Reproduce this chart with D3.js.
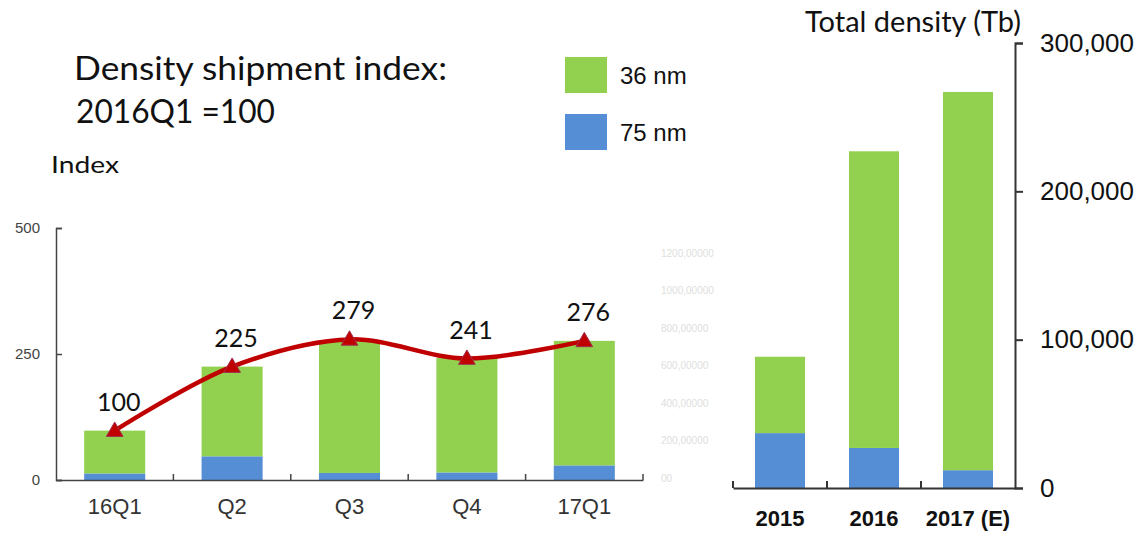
<!DOCTYPE html>
<html>
<head>
<meta charset="utf-8">
<script src="https://cdn.jsdelivr.net/npm/d3@7"></script>
<style>
  html, body { margin: 0; padding: 0; background: #fff; }
  svg { display: block; }
</style>
</head>
<body>
<svg id="chart" width="1139" height="536"></svg>
<script>
// ---------- data ----------
const quarters = ["16Q1", "Q2", "Q3", "Q4", "17Q1"];
const index75 = [13, 47, 14, 15, 29];
const index36 = [85, 178, 261, 227, 247];
const indexLine = [98, 225, 279, 241, 276];
const indexLabels = ["100", "225", "279", "241", "276"];
const indexTicks = [0, 250, 500];

const years = ["2015", "2016", "2017 (E)"];
const density75 = [37000, 27000, 12000];
const density36 = [51500, 200000, 255000];
const densityTicks = [0, 100000, 200000, 300000];

const ghostTicks = [0, 200, 400, 600, 800, 1000, 1200];
const ghostLabels = ["00", "200,00000", "400,00000", "600,00000", "800,00000", "1000,00000", "1200,00000"];

const legendItems = ["36 nm", "75 nm"];

// ---------- style ----------
const GREEN = "#92d050", BLUE = "#558ed5", RED = "#c00000";
const CAL = "Lato, 'Open Sans', sans-serif";
const ARIAL = "'Liberation Sans', Arial, sans-serif";

const svg = d3.select("#chart");

function heading(x, y, size, width, txt, anchor) {
  return svg.append("text").attr("x", x).attr("y", y)
    .attr("text-anchor", anchor || "start")
    .attr("textLength", width).attr("lengthAdjust", "spacingAndGlyphs")
    .style("font-family", CAL).style("font-size", size + "px").attr("fill", "#111")
    .text(txt);
}

// ---------- headings ----------
heading(74, 80, 32, 373, "Density shipment index:");
heading(76, 123, 32, 199, "2016Q1 =100");
heading(51, 173, 24, 68, "Index");
heading(805, 32, 28, 216, "Total density (Tb)");

// ---------- legend ----------
const legColor = d3.scaleOrdinal().domain(legendItems).range([GREEN, BLUE]);
const legY = d3.scalePoint().domain(legendItems).range([57, 114]);
const leg = svg.append("g");
legendItems.forEach(k => {
  leg.append("rect").attr("x", 565).attr("y", legY(k)).attr("width", 42).attr("height", 36)
    .attr("fill", legColor(k));
  leg.append("text").attr("x", 620).attr("y", legY(k) + 27)
    .style("font-family", ARIAL).style("font-size", "24px").attr("fill", "#111").text(k);
});

// ---------- left chart ----------
const xL = d3.scaleBand().domain(quarters).range([56, 643]).paddingInner(0.48).paddingOuter(0.24);
const yL = d3.scaleLinear().domain([0, 500]).range([480, 228]);
const stepL = xL.step();

const gL = svg.append("g");
quarters.forEach((q, i) => {
  gL.append("rect").attr("x", xL(q)).attr("width", xL.bandwidth())
    .attr("y", yL(index75[i])).attr("height", yL(0) - yL(index75[i])).attr("fill", BLUE);
  gL.append("rect").attr("x", xL(q)).attr("width", xL.bandwidth())
    .attr("y", yL(index75[i] + index36[i])).attr("height", yL(index75[i]) - yL(index75[i] + index36[i]))
    .attr("fill", GREEN);
});

// y axis (ticks pointing inward)
const yAxisL = svg.append("g").attr("transform", `translate(${xL.range()[0]},0)`)
  .call(d3.axisLeft(yL).tickValues(indexTicks).tickSizeInner(-6).tickSizeOuter(-6).tickPadding(16).tickFormat(d3.format("d")));
yAxisL.select(".domain").attr("stroke", "#444").attr("stroke-width", 1.5);
yAxisL.selectAll(".tick line").attr("stroke", "#444").attr("stroke-width", 1.5);
yAxisL.selectAll(".tick text").style("font-family", ARIAL).style("font-size", "15px").attr("fill", "#444");

// x axis
const xAxisL = svg.append("g").attr("transform", `translate(0,${yL(0)})`)
  .call(d3.axisBottom(xL).tickSize(0).tickPadding(18));
xAxisL.select(".domain").attr("stroke", "#444").attr("stroke-width", 1.5);
xAxisL.selectAll(".tick text").style("font-family", ARIAL).style("font-size", "22px").attr("fill", "#333");
quarters.forEach(q => {
  const bx = xL(q) + xL.bandwidth() / 2 + stepL / 2;
  xAxisL.append("line").attr("x1", bx).attr("x2", bx).attr("y1", 0).attr("y2", -6)
    .attr("stroke", "#444").attr("stroke-width", 1.5);
});

// ghost axis labels
const yG = d3.scaleLinear().domain([0, 1200]).range([478, 253]);
const gG = svg.append("g");
ghostTicks.forEach((t, i) => {
  gG.append("text").attr("x", 661).attr("y", yG(t)).attr("dy", "0.35em")
    .style("font-family", ARIAL).style("font-size", "10px").attr("fill", "#dde0dd")
    .text(ghostLabels[i]);
});

// line
const line = d3.line()
  .x((d, i) => xL(quarters[i]) + xL.bandwidth() / 2)
  .y(d => yL(d))
  .curve(d3.curveCatmullRom.alpha(0.5));
svg.append("path").datum(indexLine).attr("d", line)
  .attr("fill", "none").attr("stroke", RED).attr("stroke-width", 4.5);

const tri = d3.symbol().type(d3.symbolTriangle).size(120);
indexLine.forEach((v, i) => {
  const cx = xL(quarters[i]) + xL.bandwidth() / 2;
  svg.append("path").attr("d", tri).attr("transform", `translate(${cx},${yL(v) + 1})`)
    .attr("fill", RED).attr("stroke", "#a03050").attr("stroke-width", 1);
  svg.append("text").attr("x", cx + 4).attr("y", yL(v) - 20).attr("text-anchor", "middle")
    .style("font-family", CAL).style("font-size", "25px").attr("fill", "#111")
    .text(indexLabels[i]);
});

// ---------- right chart ----------
const xR = d3.scaleBand().domain(years).range([733, 1015]).paddingInner(0.468).paddingOuter(0.234);
const yR = d3.scaleLinear().domain([0, 300000]).range([488, 43]);
const stepR = xR.step();

years.forEach((yv, i) => {
  svg.append("rect").attr("x", xR(yv)).attr("width", xR.bandwidth())
    .attr("y", yR(density75[i])).attr("height", yR(0) - yR(density75[i])).attr("fill", BLUE);
  svg.append("rect").attr("x", xR(yv)).attr("width", xR.bandwidth())
    .attr("y", yR(density75[i] + density36[i])).attr("height", yR(density75[i]) - yR(density75[i] + density36[i]))
    .attr("fill", GREEN);
});

const yAxisR = svg.append("g").attr("transform", `translate(${xR.range()[1]},0)`)
  .call(d3.axisRight(yR).tickValues(densityTicks).tickSizeInner(8).tickSizeOuter(8).tickPadding(17).tickFormat(d3.format(",")));
yAxisR.select(".domain").attr("stroke", "#333").attr("stroke-width", 2);
yAxisR.selectAll(".tick line").attr("stroke", "#333").attr("stroke-width", 2);
yAxisR.selectAll(".tick text").style("font-family", ARIAL).style("font-size", "26px").attr("fill", "#111");

const xAxisR = svg.append("g").attr("transform", `translate(0,${yR(0)})`)
  .call(d3.axisBottom(xR).tickSize(0).tickPadding(22));
xAxisR.select(".domain").attr("stroke", "#333").attr("stroke-width", 2);
xAxisR.selectAll(".tick text").style("font-family", ARIAL).style("font-size", "22px")
  .style("font-weight", "bold").attr("fill", "#111");
years.forEach(yv => {
  const bx = xR(yv) + xR.bandwidth() / 2 - stepR / 2;
  xAxisR.append("line").attr("x1", bx).attr("x2", bx).attr("y1", 0).attr("y2", -7)
    .attr("stroke", "#333").attr("stroke-width", 2);
});
</script>
</body>
</html>
